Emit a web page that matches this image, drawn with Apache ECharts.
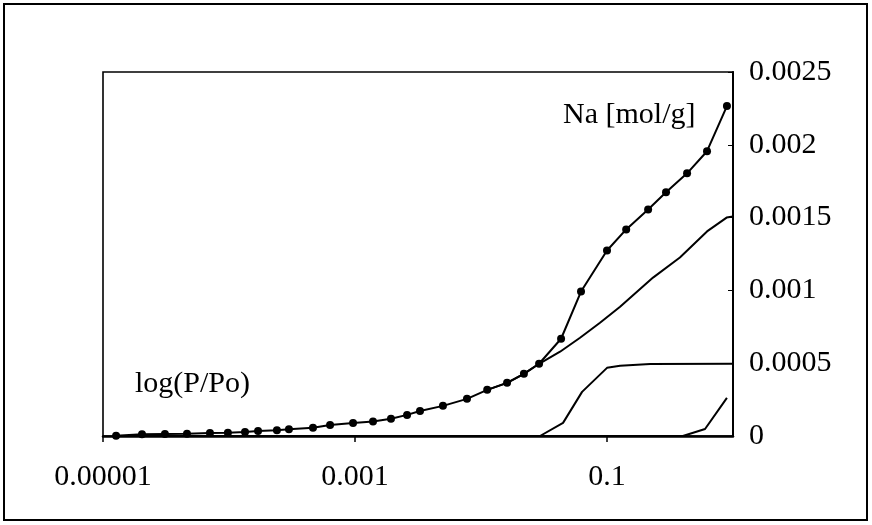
<!DOCTYPE html>
<html>
<head>
<meta charset="utf-8">
<title>Na [mol/g] vs log(P/Po)</title>
<script src="https://cdn.jsdelivr.net/npm/echarts@6/dist/echarts.min.js"></script>
<style>
  html, body { margin: 0; padding: 0; background: #fff; }
  #chart { width: 872px; height: 525px; }
</style>
</head>
<body>
<div id="chart"></div>
<script>
// relative pressure P/Po (x) and adsorbed amount Na [mol/g] (y)
var naX = [1.27e-5, 2.04e-5, 3.1e-5, 4.64e-5, 7.06e-5, 9.8e-5, 1.34e-4, 1.70e-4, 2.40e-4,
  2.99e-4, 4.64e-4, 6.34e-4, 9.65e-4, 1.39e-3, 1.93e-3, 2.59e-3, 3.28e-3, 4.99e-3, 7.74e-3,
  0.0112, 0.0161, 0.0219, 0.0289, 0.0432, 0.0622, 0.100, 0.142, 0.212, 0.294, 0.432, 0.622, 0.895];
var naY = [0.000002, 0.000012, 0.000014, 0.000015, 0.00002, 0.000022, 0.000028, 0.000034, 0.00004,
  0.000047, 0.000056, 0.000076, 0.00009, 0.0001, 0.000118, 0.000145, 0.000172, 0.000207, 0.000255,
  0.000317, 0.000365, 0.000427, 0.000496, 0.000668, 0.000992, 0.001274, 0.001419, 0.001556,
  0.001674, 0.001804, 0.001956, 0.002266];

var curveAX = [0.0112, 0.0161, 0.0219, 0.0289, 0.0424, 0.0611, 0.088, 0.127, 0.232, 0.379, 0.622, 0.89, 1.0];
var curveAY = [0.000317, 0.000365, 0.000427, 0.000496, 0.000579, 0.000675, 0.000778, 0.000888,
  0.001088, 0.001226, 0.001405, 0.0015, 0.001508];

var curveBX = [1.27e-5, 0.0294, 0.0448, 0.0634, 0.1, 0.127, 0.22, 1.0];
var curveBY = [0, 0, 0.00009, 0.000303, 0.000468, 0.000482, 0.000494, 0.000496];

var curveCX = [1.27e-5, 0.40, 0.60, 0.895];
var curveCY = [0, 0, 0.000048, 0.000262];

var xTickValues = [0.00001, 0.001, 0.1];
var xTickLabels = ['0.00001', '0.001', '0.1'];
var yTickLabels = ['0', '0.0005', '0.001', '0.0015', '0.002', '0.0025'];

(function (echarts) {
  "use strict";

  var FONT = 'Liberation Serif';

  function pairs(xs, ys) {
    return xs.map(function (x, i) { return [x, ys[i]]; });
  }

  function xLabel(value) {
    for (var i = 0; i < xTickValues.length; i++) {
      if (Math.abs(Math.log10(value) - Math.log10(xTickValues[i])) < 0.01) {
        return xTickLabels[i];
      }
    }
    return '';
  }

  function plainLine(data) {
    return {
      type: 'line',
      data: data,
      showSymbol: false,
      symbol: 'none',
      lineStyle: { color: '#000', width: 2 },
      z: 2
    };
  }

  var chart = echarts.init(document.getElementById('chart'));

  chart.setOption({
    backgroundColor: '#fff',
    animation: false,
    grid: {
      left: 103, right: 139, top: 72, bottom: 89,
      show: true, borderColor: '#000', borderWidth: 1.6
    },
    xAxis: {
      type: 'log',
      logBase: 10,
      min: 0.00001,
      max: 1,
      axisLine: { lineStyle: { color: '#000', width: 2.5 } },
      axisTick: { length: 6, lineStyle: { color: '#000', width: 1.5 }, customValues: xTickValues },
      axisLabel: {
        customValues: xTickValues,
        formatter: xLabel,
        margin: 26,
        color: '#000',
        fontFamily: FONT,
        fontSize: 30
      },
      splitLine: { show: false },
      minorTick: { show: false }
    },
    yAxis: {
      type: 'value',
      position: 'right',
      min: 0,
      max: 0.0025,
      interval: 0.0005,
      axisLine: { show: true, lineStyle: { color: '#000', width: 2 } },
      axisTick: { show: true, inside: true, length: 5, lineStyle: { color: '#000' } },
      axisLabel: {
        formatter: function (value, index) { return yTickLabels[index]; },
        margin: 16,
        color: '#000',
        fontFamily: FONT,
        fontSize: 30
      },
      splitLine: { show: false }
    },
    graphic: [
      {
        type: 'rect',
        shape: { x: 4, y: 4, width: 863, height: 516 },
        style: { fill: 'none', stroke: '#000', lineWidth: 2 },
        silent: true
      },
      {
        type: 'text',
        left: 563, top: 100,
        style: { text: 'Na [mol/g]', font: '30px "Liberation Serif"', fill: '#000' }
      },
      {
        type: 'text',
        left: 135, top: 369,
        style: { text: 'log(P/Po)', font: '30px "Liberation Serif"', fill: '#000' }
      }
    ],
    series: [
      {
        type: 'line',
        data: pairs(naX, naY),
        symbol: 'circle',
        symbolSize: 8,
        itemStyle: { color: '#000' },
        lineStyle: { color: '#000', width: 2 },
        z: 3
      },
      plainLine(pairs(curveAX, curveAY)),
      plainLine(pairs(curveBX, curveBY)),
      plainLine(pairs(curveCX, curveCY))
    ]
  });
})(echarts);
</script>
</body>
</html>
